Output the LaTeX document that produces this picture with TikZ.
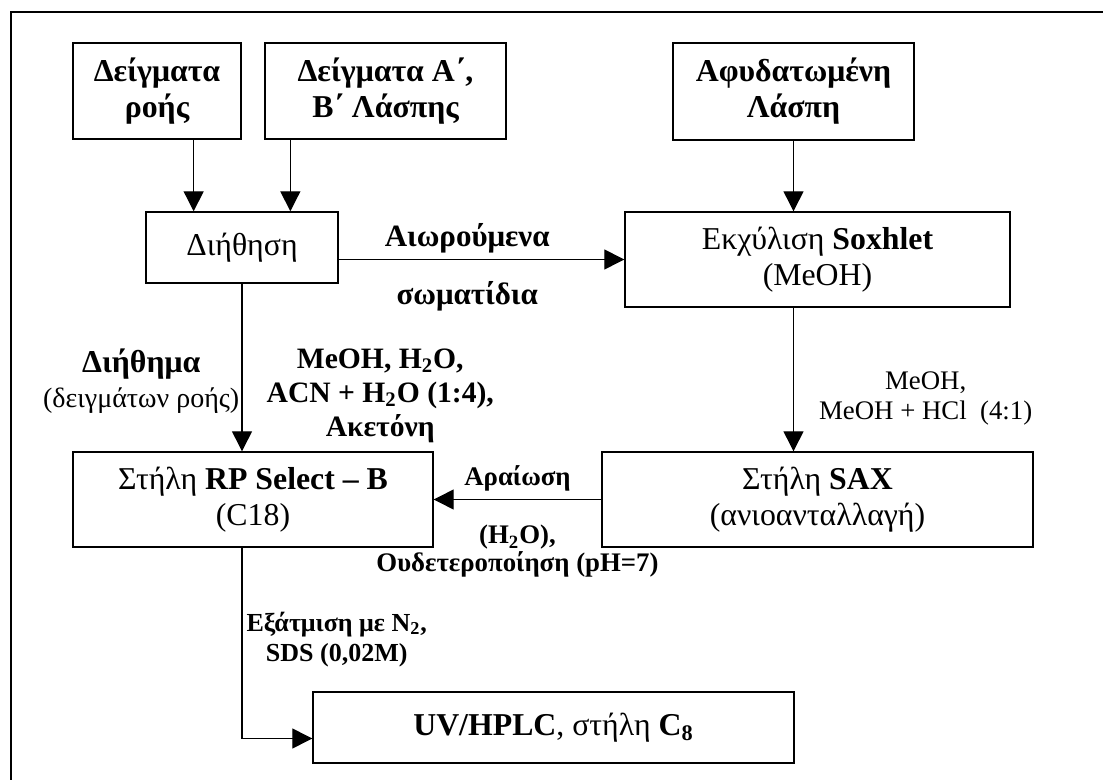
\documentclass[tikz,border=0pt]{standalone}
\usepackage{fontspec}
\setmainfont{Liberation Serif}
\usetikzlibrary{arrows.meta, calc}

\begin{document}
\begin{tikzpicture}[x=0.5pt, y=-0.5pt, line width=0.65pt, >={Triangle[length=10pt, width=10pt]},
	main/.style = {draw, line width=0.7pt, inner sep=0pt, align=center, font=\fontsize{15.9}{18}\selectfont},
	bmain/.style = {main, font=\fontsize{15.9}{18}\selectfont\bfseries},
	lbl/.style = {inner sep=0pt, align=center, font=\fontsize{13.4}{15}\selectfont\bfseries}]
	\useasboundingbox (0,0) rectangle (1103,780);
	\draw[line width=1pt] (11,780) -- (11,12.5) -- (1103,12.5);
	\node[bmain, minimum width=84pt, minimum height=48pt] (1) at (157,91) {Δείγματα\\ροής};
	\node[bmain, minimum width=120.5pt, minimum height=48pt] (2) at (385.5,91) {Δείγματα Α΄,\\Β΄ Λάσπης};
	\node[bmain, minimum width=120.5pt, minimum height=48.5pt] (3) at (793.5,91.5) {Αφυδατωμένη\\Λάσπη};
	\node[main, minimum width=96pt, minimum height=35.5pt] (4) at (242,247.5) {Διήθηση};
	\node[main, minimum width=192.5pt, minimum height=47.5pt] (5) at (817.5,259.5) {Εκχύλιση \textbf{Soxhlet}\\(MeOH)};
	\node[main, minimum width=180pt, minimum height=47.5pt] (6) at (253,499.5) {Στήλη \textbf{RP Select – B}\\(C18)};
	\node[main, minimum width=215.5pt, minimum height=47.5pt] (7) at (817.5,499.5) {Στήλη \textbf{SAX}\\(ανιοανταλλαγή)};
	\node[main, minimum width=240.5pt, minimum height=35.5pt] (8) at (553.5,727.5) {\textbf{UV/HPLC}, στήλη \textbf{C\textsubscript{8}}};
	\coordinate (4a) at ($(4.north west)!.25!(4.north east)$);
	\coordinate (4b) at ($(4.north west)!.75!(4.north east)$);
	\coordinate (8a) at ([yshift=-5.5pt]8.west);
	\draw[->] (1.south -| 4a) -- (4a);
	\draw[->] (2.south -| 4b) -- (4b);
	\draw[->] (3.south) -- (3.south |- 5.north);
	\draw[->] (4.east |- 5.west) -- (5.west)
		node[lbl, pos=0.45, above=3pt, font=\fontsize{15.5}{17}\selectfont\bfseries] {Αιωρούμενα}
		node[lbl, pos=0.45, below=10.5pt, font=\fontsize{15.5}{17}\selectfont\bfseries] {σωματίδια};
	\draw[->] (4.south) -- (4.south |- 6.north)
		node[lbl, pos=0.58, left=1pt, font=\fontsize{14}{17.5}\selectfont] {\fontsize{15.9}{17.5}\selectfont\textbf{Διήθημα}\\(δειγμάτων ροής)}
		node[lbl, pos=0.67, right=12pt, font=\fontsize{14.8}{17}\selectfont\bfseries] {MeOH, H\textsubscript{2}O,\\ACN + H\textsubscript{2}O (1:4),\\Ακετόνη};
	\draw[->] (5.south -| 3) -- (7.north -| 3)
		node[lbl, pos=0.63, right=12.5pt, font=\fontsize{13.4}{15}\selectfont] {MeOH,\\MeOH + HCl\ \ (4:1)};
	\draw[->] (7.west) -- (6.east)
		node[lbl, midway, above=4pt] {Αραίωση}
		node[lbl, midway, below=12.5pt, font=\fontsize{13.4}{14}\selectfont\bfseries] {(H\textsubscript{2}O),\\Ουδετεροποίηση (pH=7)};
	\draw[->] (6.south -| 4) |- (8a)
		node[lbl, pos=0.24, right=2pt, font=\fontsize{13}{15}\selectfont\bfseries] {Εξάτμιση με N\textsubscript{2},\\SDS (0,02M)};
\end{tikzpicture}
\end{document}
